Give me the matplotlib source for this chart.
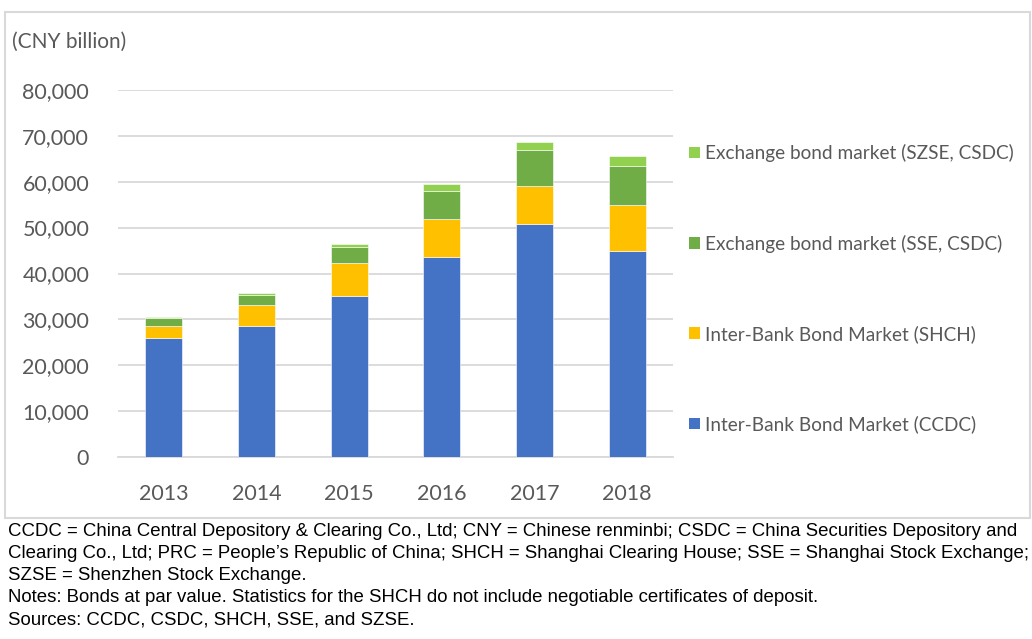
import matplotlib
matplotlib.use("Agg")
import matplotlib.pyplot as plt
from matplotlib.patches import Rectangle, Patch
import numpy as np

years = ["2013", "2014", "2015", "2016", "2017", "2018"]
ccdc = [25870, 28620, 35000, 43700, 50800, 45000]
shch = [2610, 4500, 7250, 8110, 8330, 9930]
sse = [1740, 2250, 3550, 6230, 7750, 8550]
szse = [290, 360, 580, 1450, 1810, 2100]

names = ["Inter-Bank Bond Market (CCDC)", "Inter-Bank Bond Market (SHCH)",
         "Exchange bond market (SSE, CSDC)", "Exchange bond market (SZSE, CSDC)"]
colors = ["#4472C4", "#FFC000", "#70AD47", "#92D050"]
yticks = [0, 10000, 20000, 30000, 40000, 50000, 60000, 70000, 80000]

notes = [
    "CCDC = China Central Depository & Clearing Co., Ltd; CNY = Chinese renminbi; CSDC = China Securities Depository and",
    "Clearing Co., Ltd; PRC = People\u2019s Republic of China; SHCH = Shanghai Clearing House; SSE = Shanghai Stock Exchange;",
    "SZSE = Shenzhen Stock Exchange.",
    "Notes: Bonds at par value. Statistics for the SHCH do not include negotiable certificates of deposit.",
    "Sources: CCDC, CSDC, SHCH, SSE, and SZSE.",
]

gray = "#595959"
fig = plt.figure(figsize=(10.32, 6.39), dpi=100)
ax = fig.add_axes([0.114, 0.2843, 0.5385, 0.5753])

x = np.arange(len(years))
bottom = np.zeros(len(years))
for vals, c in zip([ccdc, shch, sse, szse], colors):
    ax.bar(x, vals, 0.4, bottom=bottom, color=c, edgecolor="white", linewidth=0.4, zorder=3)
    bottom += np.array(vals)

ax.set_xlim(-0.5, len(years) - 0.5)
ax.set_ylim(0, 80000)
ax.set_yticks(yticks)
ax.set_yticklabels(["{:,}".format(v) for v in yticks])
ax.set_xticks(x)
ax.set_xticklabels(years)
ax.yaxis.grid(True, color="#D9D9D9", linewidth=1.3, zorder=0)
for s in ["top", "right", "left"]:
    ax.spines[s].set_visible(False)
ax.spines["bottom"].set_color("#D9D9D9")
ax.spines["bottom"].set_linewidth(1.3)
ax.tick_params(length=0, labelsize=15.5, labelcolor=gray)
ax.tick_params(axis="x", pad=19)
ax.tick_params(axis="y", pad=20.5)
for lab in ax.get_xticklabels() + ax.get_yticklabels():
    lab.set_fontfamily("Lato")

fig.text(12 / 1032, 1 - 42 / 639, "(CNY billion)", fontsize=15, color=gray,
         family="Lato", va="center", ha="left")

handles = [Patch(facecolor=c, edgecolor="none") for c in colors][::-1]
leg = fig.legend(handles, names[::-1], loc="upper left",
                 bbox_to_anchor=(672 / 1032, 1 - 127 / 639), frameon=False,
                 handlelength=0.55, handleheight=0.55, handletextpad=0.3,
                 labelspacing=3.8, prop={"family": "Lato", "size": 13.7})
for t in leg.get_texts():
    t.set_color(gray)

fig.patches.append(Rectangle((5 / 1032, 1 - 518 / 639), 1025 / 1032, 506 / 639,
                             transform=fig.transFigure, fill=False,
                             edgecolor="#D9D9D9", linewidth=1.5))

for i, line in enumerate(notes):
    fig.text(8 / 1032, 1 - (532 + i * 22) / 639, line, fontsize=13.45,
             family="Liberation Sans", va="center", ha="left", color="black")

fig.savefig("out.png", dpi=100)
